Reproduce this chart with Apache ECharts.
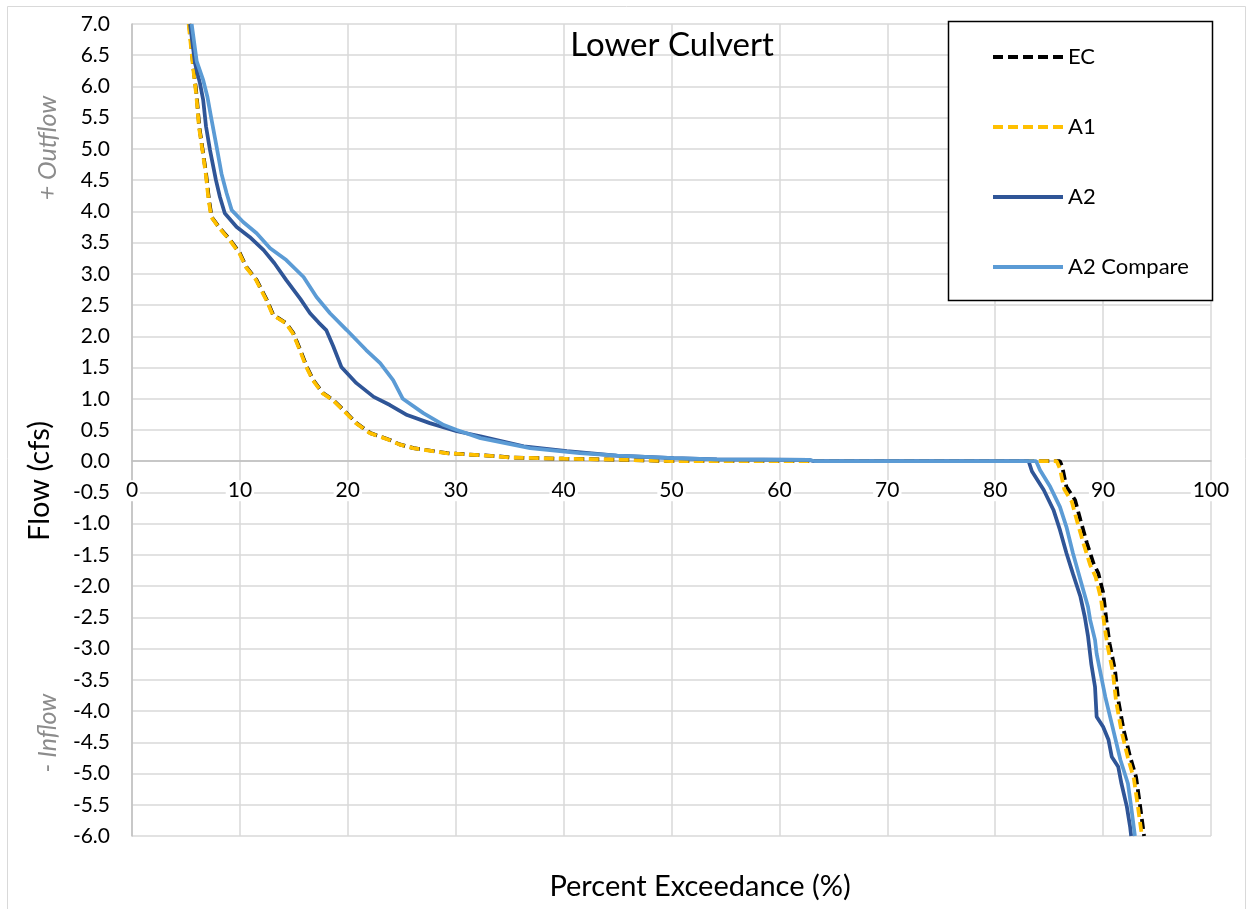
<!DOCTYPE html>
<html>
<head>
<meta charset="utf-8">
<script src="https://cdn.jsdelivr.net/npm/echarts@6/dist/echarts.min.js"></script>
<style>
html,body{margin:0;padding:0;background:#fff;}
#chart{width:1252px;height:909px;}
</style>
</head>
<body>
<div id="chart"></div>
<script>
// ---- data (percent exceedance, flow cfs) ----
const seriesNames = ['EC', 'A1', 'A2', 'A2 Compare'];
const xTicks = [0, 10, 20, 30, 40, 50, 60, 70, 80, 90, 100];

const ecX = [5.3, 5.68, 6.0, 6.23, 6.55, 6.86, 7.14, 7.38, 8.15, 9.1, 10.0, 10.6, 11.55, 12.5, 13.1, 14.3, 14.95, 15.6, 16.2, 16.8, 17.7, 18.65, 19.6, 20.8, 22.1, 23.9, 24.8, 26.1, 29.2, 30.1, 33.8, 35.0, 40.0, 46.4, 50.2, 86.0, 86.2, 86.6, 87.4, 87.9, 88.5, 89.1, 89.55, 90.0, 90.3, 90.6, 91.1, 91.4, 91.9, 92.5, 93.05, 93.4, 93.8];
const ecY = [7.0, 6.32, 5.84, 5.36, 4.98, 4.61, 4.18, 3.91, 3.73, 3.54, 3.33, 3.11, 2.9, 2.58, 2.34, 2.21, 2.05, 1.78, 1.51, 1.3, 1.09, 0.98, 0.82, 0.61, 0.45, 0.34, 0.27, 0.21, 0.13, 0.12, 0.08, 0.06, 0.04, 0.02, 0.0, 0.0, -0.08, -0.41, -0.62, -0.94, -1.31, -1.63, -1.79, -2.1, -2.54, -2.92, -3.34, -3.82, -4.3, -4.73, -5.05, -5.48, -6.0];

const a1X = [5.25, 5.65, 5.97, 6.2, 6.52, 6.83, 7.1, 7.35, 8.1, 9.05, 9.95, 10.55, 11.5, 12.45, 13.05, 14.25, 14.9, 15.55, 16.15, 16.75, 17.65, 18.6, 19.55, 20.75, 22.05, 23.85, 24.75, 26.05, 29.1, 30.0, 33.7, 35.0, 40.0, 46.4, 50.0, 85.7, 86.0, 86.4, 87.1, 87.6, 88.2, 88.8, 89.3, 89.8, 90.1, 90.4, 90.9, 91.2, 91.7, 92.3, 92.85, 93.2, 93.6];
const a1Y = [7.0, 6.32, 5.84, 5.36, 4.98, 4.61, 4.18, 3.91, 3.73, 3.54, 3.33, 3.11, 2.9, 2.58, 2.34, 2.21, 2.05, 1.78, 1.51, 1.3, 1.09, 0.98, 0.82, 0.61, 0.45, 0.34, 0.27, 0.21, 0.13, 0.12, 0.08, 0.06, 0.04, 0.02, 0.0, 0.0, -0.12, -0.45, -0.65, -0.97, -1.33, -1.66, -1.85, -2.2, -2.6, -2.95, -3.37, -3.84, -4.32, -4.75, -5.08, -5.5, -6.0];

const a2X = [5.38, 5.84, 6.3, 6.6, 6.86, 7.23, 7.78, 8.15, 8.6, 9.7, 10.9, 12.2, 13.2, 14.3, 15.6, 16.5, 17.3, 18.0, 18.65, 19.4, 20.8, 22.4, 23.9, 25.5, 27.6, 30.1, 32.3, 36.3, 40.3, 44.9, 50.2, 54.2, 62.8, 63.2, 83.1, 83.4, 84.5, 85.4, 86.0, 86.6, 87.2, 87.9, 88.3, 88.6, 88.9, 89.25, 89.4, 90.0, 90.5, 90.8, 91.4, 91.7, 92.2, 92.5, 92.6];
const a2Y = [7.0, 6.37, 6.05, 5.78, 5.36, 4.98, 4.5, 4.23, 3.97, 3.75, 3.59, 3.38, 3.17, 2.9, 2.6, 2.37, 2.22, 2.1, 1.84, 1.51, 1.25, 1.03, 0.9, 0.74, 0.61, 0.48, 0.4, 0.24, 0.16, 0.09, 0.05, 0.03, 0.02, 0.0, 0.0, -0.16, -0.46, -0.78, -1.1, -1.47, -1.8, -2.17, -2.49, -2.8, -3.24, -3.61, -4.09, -4.25, -4.46, -4.73, -4.89, -5.16, -5.53, -5.85, -6.0];

const a2cX = [5.53, 6.0, 6.6, 6.98, 7.38, 7.9, 8.3, 8.77, 9.24, 10.3, 11.55, 12.8, 14.3, 15.9, 17.1, 18.35, 19.9, 21.7, 23.0, 24.2, 25.1, 27.0, 28.9, 30.1, 32.3, 36.9, 41.5, 45.0, 50.2, 54.2, 62.8, 63.3, 83.8, 84.15, 85.1, 86.0, 86.6, 87.2, 87.9, 88.6, 88.8, 89.25, 89.4, 89.7, 90.2, 90.8, 91.6, 92.3, 92.6, 92.95];
const a2cY = [7.0, 6.4, 6.1, 5.84, 5.46, 4.98, 4.6, 4.29, 4.02, 3.83, 3.65, 3.41, 3.22, 2.95, 2.63, 2.37, 2.1, 1.78, 1.57, 1.3, 1.0, 0.77, 0.58, 0.5, 0.37, 0.21, 0.13, 0.09, 0.05, 0.03, 0.02, 0.0, 0.0, -0.14, -0.41, -0.73, -1.05, -1.47, -1.9, -2.33, -2.54, -2.86, -3.08, -3.34, -3.77, -4.2, -4.78, -5.16, -5.53, -6.0];

// ---- chart ----
const FONT = 'Lato';
const Y_MIN = -6, Y_MAX = 7;
const GRID_TOP = 24, GRID_BOTTOM = 73, H = 909;
const plotH = H - GRID_TOP - GRID_BOTTOM;
const zeroOffset = plotH * (0 - Y_MIN) / (Y_MAX - Y_MIN); // distance of y=0 line from bottom edge

function pairs(xs, ys) { return xs.map((x, i) => [x, ys[i]]); }

const chart = echarts.init(document.getElementById('chart'), null, { renderer: 'canvas' });

const option = {
  backgroundColor: '#ffffff',
  animation: false,
  textStyle: { fontFamily: FONT },
  grid: { left: 132, top: GRID_TOP, right: 41, bottom: GRID_BOTTOM, containLabel: false },
  xAxis: {
    type: 'value', min: 0, max: 100, interval: 10,
    offset: -zeroOffset,
    axisLine: { show: true, onZero: false, lineStyle: { color: '#BFBFBF', width: 1.5 } },
    axisTick: { show: false },
    axisLabel: {
      color: '#000', fontSize: 21, fontFamily: FONT, margin: 19,
      backgroundColor: '#ffffff', padding: [0, 2, 0, 2],
      formatter: v => xTicks.includes(v) ? String(v) : ''
    },
    splitLine: { show: true, lineStyle: { color: '#D9D9D9', width: 1.5 } }
  },
  yAxis: {
    type: 'value', min: Y_MIN, max: Y_MAX, interval: 0.5,
    axisLine: { show: true, onZero: false, lineStyle: { color: '#BFBFBF', width: 1.5 } },
    axisTick: { show: false },
    axisLabel: { color: '#000', fontSize: 21, fontFamily: FONT, margin: 22, formatter: v => v.toFixed(1) },
    splitLine: { show: true, lineStyle: { color: '#D9D9D9', width: 1.5 } }
  },
  legend: {
    orient: 'vertical', left: 986, top: 41, z: 200,
    itemWidth: 70, itemHeight: 14, itemGap: 48,
    itemStyle: { opacity: 0 },
    lineStyle: { width: 4 },
    textStyle: { color: '#000', fontSize: 22, fontFamily: FONT },
    data: seriesNames
  },
  graphic: [
    { type: 'rect', z: -10, shape: { x: 7.5, y: 6.5, width: 1238, height: 915 }, style: { fill: 'none', stroke: '#D9D9D9', lineWidth: 1 } },
    { type: 'rect', z: 90, shape: { x: 948.5, y: 21.5, width: 264, height: 279 }, style: { fill: '#ffffff', stroke: '#000', lineWidth: 1.5 } },
    { type: 'text', z: 100, x: 672, y: 45, style: { text: 'Lower Culvert', fill: '#000', font: '33px Lato', textAlign: 'center', textVerticalAlign: 'middle' } },
    { type: 'text', z: 100, x: 700, y: 887, style: { text: 'Percent Exceedance (%)', fill: '#000', font: '29px Lato', textAlign: 'center', textVerticalAlign: 'middle' } },
    { type: 'text', z: 100, x: 40, y: 481, rotation: Math.PI / 2, style: { text: 'Flow (cfs)', fill: '#000', font: '29px Lato', textAlign: 'center', textVerticalAlign: 'middle' } },
    { type: 'text', z: 100, x: 48, y: 148, rotation: Math.PI / 2, style: { text: '+ Outflow', fill: '#8C8C8C', font: 'italic 25px Lato', textAlign: 'center', textVerticalAlign: 'middle' } },
    { type: 'text', z: 100, x: 48, y: 733, rotation: Math.PI / 2, style: { text: '- Inflow', fill: '#8C8C8C', font: 'italic 25px Lato', textAlign: 'center', textVerticalAlign: 'middle' } }
  ],
  series: [
    { name: 'EC', type: 'line', data: pairs(ecX, ecY), showSymbol: false, symbol: 'none', clip: true, z: 2,
      lineStyle: { color: '#000000', width: 3.75, type: [10, 5] }, itemStyle: { color: '#000000' } },
    { name: 'A1', type: 'line', data: pairs(a1X, a1Y), showSymbol: false, symbol: 'none', clip: true, z: 3,
      lineStyle: { color: '#FFC000', width: 3.75, type: [10, 5] }, itemStyle: { color: '#FFC000' } },
    { name: 'A2', type: 'line', data: pairs(a2X, a2Y), showSymbol: false, symbol: 'none', clip: true, z: 4,
      lineStyle: { color: '#2F5597', width: 3.75 }, itemStyle: { color: '#2F5597' } },
    { name: 'A2 Compare', type: 'line', data: pairs(a2cX, a2cY), showSymbol: false, symbol: 'none', clip: true, z: 5,
      lineStyle: { color: '#5B9BD5', width: 3.75 }, itemStyle: { color: '#5B9BD5' } }
  ]
};
chart.setOption(option);
</script>
</body>
</html>
